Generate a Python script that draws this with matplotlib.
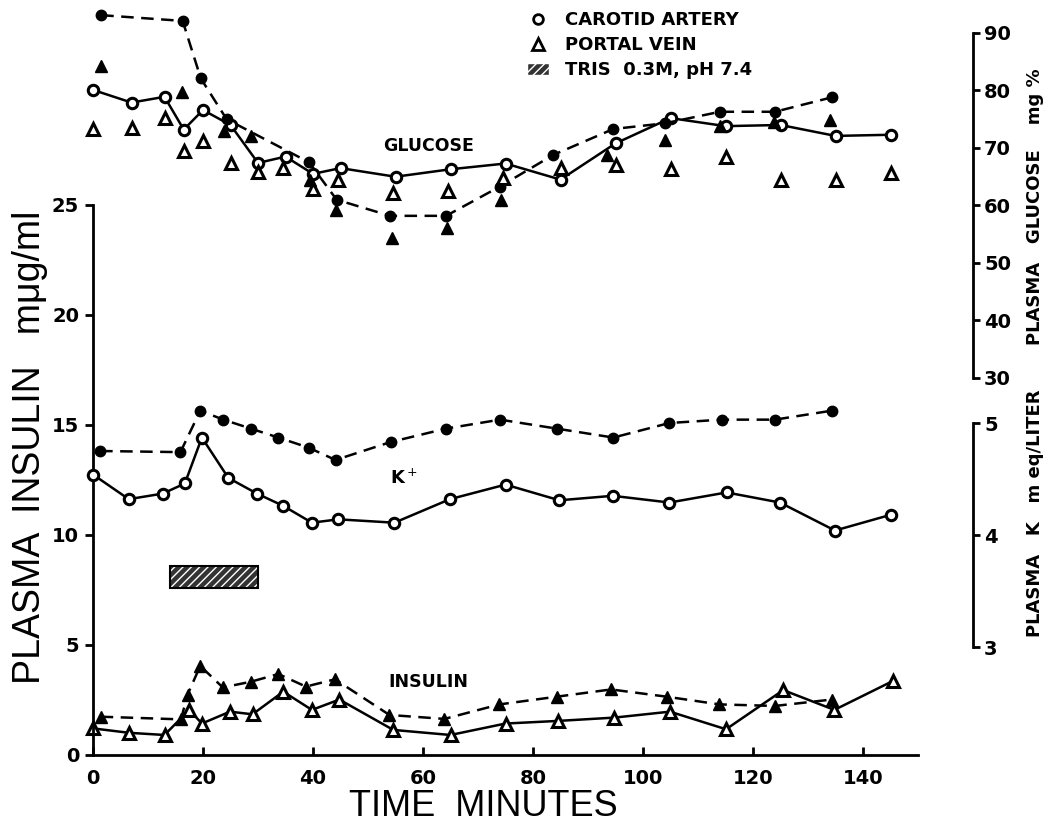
import matplotlib
matplotlib.use("Agg")
import matplotlib.pyplot as plt
from matplotlib.lines import Line2D
from matplotlib.patches import Patch

# glucose (mg %) - carotid artery, experiment 1 (open circles, solid line)
glu_ca_t = [0, 7, 13, 16.5, 20, 25, 30, 35, 40, 45, 55, 65, 75, 85, 95, 105, 115, 125, 135, 145]
glu_ca = [80.1, 77.9, 78.9, 73.2, 76.6, 74.0, 67.4, 68.5, 65.5, 66.5, 65.0, 66.3, 67.3, 64.5, 70.8, 75.2, 73.8, 74.0, 72.1, 72.3]
# glucose - portal vein, experiment 1 (open triangles)
glu_pv_t = [0, 7, 13, 16.5, 20, 25, 30, 34.5, 40, 44.5, 54.5, 64.5, 74.5, 85, 95, 105, 115, 125, 135, 145]
glu_pv = [73.3, 73.5, 75.2, 69.4, 71.3, 67.4, 65.9, 66.6, 62.9, 64.4, 62.1, 62.5, 64.7, 66.5, 67.0, 66.3, 68.4, 64.4, 64.4, 65.7]
# glucose - carotid artery, experiment 2 (filled circles, dashed line)
glu_ca2_t = [1.5, 16.3, 19.6, 24.3, 39.3, 44.3, 54, 64.2, 74, 83.7, 94.6, 104, 114, 124, 134.3]
glu_ca2 = [93.1, 92.1, 82.1, 75.0, 67.5, 61.0, 58.2, 58.2, 63.3, 68.8, 73.3, 74.3, 76.3, 76.3, 78.8]
# glucose - portal vein, experiment 2 (filled triangles)
glu_pv2_t = [1.4, 16.1, 23.8, 28.8, 39.4, 44.2, 54.3, 64.3, 74.1, 93.5, 104, 114, 123.8, 134]
glu_pv2 = [84.3, 79.8, 73.0, 72.0, 64.4, 59.2, 54.3, 56.0, 61.0, 68.8, 71.4, 73.8, 74.6, 74.9]

# plasma K (m eq/liter)
k_open_t = [0, 6.5, 12.7, 16.7, 19.8, 24.6, 29.8, 34.6, 39.8, 44.6, 54.8, 64.9, 75, 84.8, 94.5, 104.8, 115.2, 124.9, 134.9, 145]
k_open = [4.54, 4.32, 4.37, 4.46, 4.87, 4.51, 4.37, 4.26, 4.11, 4.14, 4.11, 4.32, 4.45, 4.31, 4.35, 4.29, 4.38, 4.29, 4.04, 4.18]
k_fill_t = [1.3, 15.9, 19.5, 23.7, 28.7, 33.7, 39.2, 44.1, 54.1, 64.2, 74, 84.3, 94.6, 104.8, 114.3, 124, 134.3]
k_fill = [4.75, 4.74, 5.11, 5.03, 4.95, 4.87, 4.78, 4.67, 4.83, 4.95, 5.03, 4.95, 4.87, 5.0, 5.03, 5.03, 5.11]

# plasma insulin (mug/ml)
ins_open_t = [0, 6.5, 13, 17.5, 19.8, 24.9, 29, 34.6, 39.8, 44.8, 54.6, 65, 75, 84.6, 94.8, 104.9, 115.1, 125.5, 134.8, 145.4]
ins_open = [1.21, 1.01, 0.91, 2.05, 1.43, 1.97, 1.85, 2.88, 2.05, 2.52, 1.14, 0.91, 1.43, 1.55, 1.70, 1.97, 1.17, 2.95, 2.05, 3.36]
ins_fill_t = [1.4, 16, 17.2, 19.5, 23.6, 28.7, 33.7, 38.7, 44, 53.9, 63.9, 73.9, 84.3, 94.2, 104.3, 113.9, 124, 134.3]
ins_fill = [1.74, 1.62, 2.75, 4.05, 3.07, 3.33, 3.68, 3.11, 3.44, 1.82, 1.64, 2.30, 2.65, 2.98, 2.65, 2.30, 2.23, 2.52]

# Tris infusion period (min) and its drawn level on the insulin scale
tris_start, tris_end = 14, 30
tris_level, tris_height = 7.6, 1.0

xticks = [0, 20, 40, 60, 80, 100, 120, 140]
ins_ticks = [0, 5, 10, 15, 20, 25]
glu_ticks = [30, 40, 50, 60, 70, 80, 90]
k_ticks = [3, 4, 5]

bold = {'family': 'DejaVu Sans', 'weight': 'bold'}
plt.rcParams['font.family'] = 'DejaVu Sans'

fig = plt.figure(figsize=(10.55, 8.32), dpi=100)
ax = fig.add_axes([93/1055, 77/832, 825/1055, 748/832])
ax.set_xlim(0, 150)
ax.set_ylim(0, 34)

gax = ax.twinx()
gax.set_ylim(-35.57, 94.52)
kax = ax.twinx()
kax.set_ylim(2.036, 8.714)

lw = 1.8
dash = (0, (5, 3))
open_c = dict(marker='o', ms=7.5, mfc='white', mec='black', mew=2.2, clip_on=False)
fill_c = dict(marker='o', ms=7.5, mfc='black', mec='black', clip_on=False)
open_t = dict(marker='^', ms=9, mfc='white', mec='black', mew=2.2, clip_on=False)
fill_t = dict(marker='^', ms=9, mfc='black', mec='black', clip_on=False)

# glucose
gax.plot(glu_ca_t, glu_ca, color='black', lw=lw, **open_c)
gax.plot(glu_ca2_t, glu_ca2, color='black', lw=lw, ls=dash, **fill_c)
gax.plot(glu_pv_t, glu_pv, ls='none', **open_t)
gax.plot(glu_pv2_t, glu_pv2, ls='none', **fill_t)

# potassium
kax.plot(k_fill_t, k_fill, color='black', lw=lw, ls=dash, **fill_c)
kax.plot(k_open_t, k_open, color='black', lw=lw, **open_c)

# insulin
ax.plot(ins_fill_t, ins_fill, color='black', lw=lw, ls=dash, **fill_t)
ax.plot(ins_open_t, ins_open, color='black', lw=lw, **open_t)

# tris bar
ax.bar(tris_start, tris_height, width=tris_end - tris_start, bottom=tris_level, align='edge',
       color='#333333', edgecolor='white', hatch='////', lw=0)
ax.bar(tris_start, tris_height, width=tris_end - tris_start, bottom=tris_level, align='edge',
       fill=False, edgecolor='black', lw=1.5)

# curve labels
ax.text(61, 27.7, 'GLUCOSE', ha='center', va='center', fontsize=12.5, **bold)
ax.text(56.5, 12.6, r'K$^+$', ha='center', va='center', fontsize=13, **bold)
ax.text(61, 3.3, 'INSULIN', ha='center', va='center', fontsize=12.5, **bold)

# main axes styling
for s in ['top', 'right']:
    ax.spines[s].set_visible(False)
ax.spines['left'].set_bounds(0, 25)
ax.spines['left'].set_linewidth(2)
ax.spines['bottom'].set_linewidth(2)
ax.set_xticks(xticks)
ax.set_yticks(ins_ticks)
ax.tick_params(axis='x', direction='in', length=6, width=2, pad=10, labelsize=14)
ax.tick_params(axis='y', direction='out', length=6, width=2, pad=4, labelsize=14)
for lab in ax.get_xticklabels() + ax.get_yticklabels():
    lab.set_fontweight('bold')

ax.set_xlabel('TIME  MINUTES', fontsize=26, family='Liberation Sans')
ax.xaxis.set_label_coords(0.473, -0.045)
ax.set_ylabel('PLASMA  INSULIN   m\u03bcg/ml', fontsize=27, family='Liberation Sans')
ax.yaxis.set_label_coords(-0.055, 0.412)

# right axes
spine_x = (973 - 93) / 825
for a, ticks, lo, hi in [(gax, glu_ticks, 30, 90), (kax, k_ticks, 3, 5)]:
    for s in ['top', 'left', 'bottom']:
        a.spines[s].set_visible(False)
    a.spines['right'].set_position(('axes', spine_x))
    a.spines['right'].set_bounds(lo, hi)
    a.spines['right'].set_linewidth(2)
    a.set_yticks(ticks)
    a.tick_params(axis='y', direction='out', length=5, width=2, pad=3, labelsize=14)
    for lab in a.get_yticklabels():
        lab.set_fontweight('bold')

ax.text(1.142, 0.733, 'PLASMA   GLUCOSE    mg %', transform=ax.transAxes, rotation=90,
        ha='center', va='center', fontsize=13, **bold)
ax.text(1.142, 0.3235, 'PLASMA   K   m eq/LITER', transform=ax.transAxes, rotation=90,
        ha='center', va='center', fontsize=13, **bold)

# legend
handles = [Line2D([], [], ls='none', marker='o', ms=7, mfc='white', mec='black', mew=2),
           Line2D([], [], ls='none', marker='^', ms=8, mfc='white', mec='black', mew=2),
           Patch(facecolor='#333333', edgecolor='white', hatch='////')]
fig.legend(handles, ['CAROTID ARTERY', 'PORTAL VEIN', 'TRIS  0.3M, pH 7.4'],
           loc='upper left', bbox_to_anchor=(518/1055, 1 - 2/832), frameon=False,
           prop={'family': 'DejaVu Sans', 'weight': 'bold', 'size': 13},
           handlelength=1.2, handletextpad=0.9, labelspacing=0.4, borderpad=0)

fig.savefig('out.png', dpi=100)
